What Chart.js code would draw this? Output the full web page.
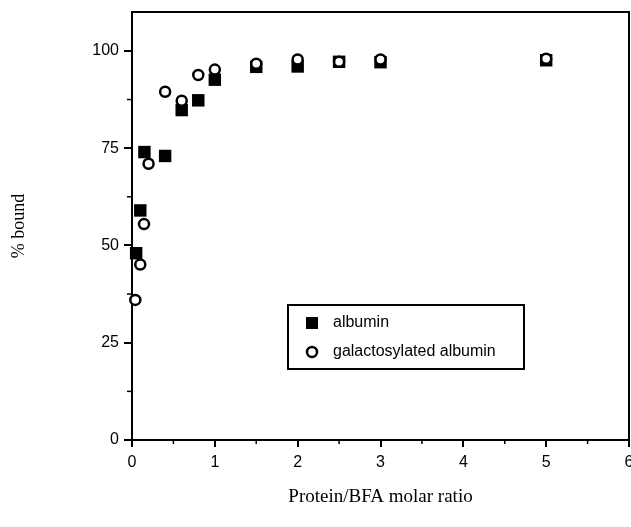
<!DOCTYPE html>
<html><head><meta charset="utf-8">
<script src="https://cdn.jsdelivr.net/npm/chart.js@4"></script>
<style>html,body{margin:0;padding:0;background:#fff}#wrap{width:631px;height:527px}</style>
</head><body><div id="wrap"><canvas id="c" width="631" height="527"></canvas></div>
<script>
const albuminX = [0.05, 0.1, 0.15, 0.4, 0.6, 0.8, 1.0, 1.5, 2, 2.5, 3, 5];
const albuminY = [48, 59, 74, 73, 84.8, 87.3, 92.6, 95.9, 96, 97.2, 97.1, 97.6];
const galX = [0.04, 0.1, 0.145, 0.2, 0.4, 0.6, 0.8, 1.0, 1.5, 2, 2.5, 3, 5];
const galY = [36, 45.1, 55.5, 71, 89.5, 87.2, 93.8, 95.2, 96.7, 97.8, 97.2, 97.8, 98];
const xTicks = [0, 1, 2, 3, 4, 5, 6];
const xMinor = [0.5, 1.5, 2.5, 3.5, 4.5, 5.5];
const yTicks = [0, 25, 50, 75, 100];
const yMinor = [12.5, 37.5, 62.5, 87.5];
const seriesNames = ['albumin', 'galactosylated albumin'];
const xTitle = 'Protein/BFA molar ratio';
const yTitle = '% bound';

const toPts = (xs, ys) => xs.map((v, i) => ({x: v, y: ys[i]}));

const extras = {
  id: 'extras',
  afterDraw(chart) {
    const {ctx, chartArea: a, scales: {x, y}} = chart;
    ctx.save();
    ctx.strokeStyle = '#000';
    ctx.lineWidth = 2;
    ctx.beginPath();
    ctx.moveTo(a.left, a.top); ctx.lineTo(a.right, a.top); ctx.lineTo(a.right, a.bottom);
    ctx.stroke();
    ctx.lineWidth = 1.5;
    xMinor.forEach(v => { const px = x.getPixelForValue(v); ctx.beginPath(); ctx.moveTo(px, a.bottom); ctx.lineTo(px, a.bottom + 4); ctx.stroke(); });
    yMinor.forEach(v => { const py = y.getPixelForValue(v); ctx.beginPath(); ctx.moveTo(a.left, py); ctx.lineTo(a.left - 5, py); ctx.stroke(); });
    // legend box
    const bx = 288, by = 305, bw = 236, bh = 64;
    ctx.lineWidth = 2;
    ctx.fillStyle = '#fff';
    ctx.fillRect(bx, by, bw, bh);
    ctx.strokeRect(bx, by, bw, bh);
    const mx = 312, rows = [323, 352];
    ctx.fillStyle = '#000';
    ctx.fillRect(mx - 6, rows[0] - 6, 12, 12);
    ctx.beginPath(); ctx.arc(mx, rows[1], 5, 0, Math.PI * 2);
    ctx.fillStyle = '#fff'; ctx.fill(); ctx.lineWidth = 2.5; ctx.stroke();
    ctx.fillStyle = '#000';
    ctx.font = '16px "Liberation Sans", Arial, sans-serif';
    ctx.textBaseline = 'middle';
    ctx.textAlign = 'left';
    ctx.fillText(seriesNames[0], 333, rows[0]);
    ctx.fillText(seriesNames[1], 333, rows[1]);
    ctx.restore();
  }
};

new Chart(document.getElementById('c'), {
  type: 'scatter',
  data: {
    datasets: [
      {label: seriesNames[0], data: toPts(albuminX, albuminY), pointStyle: 'rect', pointRadius: 8.8, pointHoverRadius: 8.8,
       backgroundColor: '#000', borderColor: '#000', borderWidth: 0, order: 1, clip: false},
      {label: seriesNames[1], data: toPts(galX, galY), pointStyle: 'circle', pointRadius: 5, pointHoverRadius: 5,
       backgroundColor: '#fff', borderColor: '#000', borderWidth: 2.5, order: 0, clip: false}
    ]
  },
  options: {
    responsive: false,
    devicePixelRatio: 1,
    animation: false,
    events: [],
    layout: {autoPadding: false, padding: {top: 12, right: 2, left: 0, bottom: 0}},
    plugins: {legend: {display: false}, tooltip: {enabled: false}},
    scales: {
      x: {
        type: 'linear', min: 0, max: 6,
        afterBuildTicks: s => { s.ticks = xTicks.map(v => ({value: v})); },
        afterFit: s => { s.height = 87; s.paddingLeft = 0; s.paddingRight = 0; },
        border: {display: true, color: '#000', width: 2},
        grid: {display: true, drawOnChartArea: false, drawTicks: true, tickLength: 7, color: '#000', lineWidth: 2},
        ticks: {color: '#000', padding: 6, maxRotation: 0, font: {family: '"Liberation Sans", Arial, sans-serif', size: 16}},
        title: {display: true, text: xTitle, color: '#000', font: {family: '"Liberation Serif", "Times New Roman", serif', size: 19}, padding: {top: 0, bottom: 18.6}}
      },
      y: {
        type: 'linear', min: 0, max: 110,
        afterBuildTicks: s => { s.ticks = yTicks.map(v => ({value: v})); },
        afterFit: s => { s.width = 132; s.paddingTop = 0; s.paddingBottom = 0; },
        border: {display: true, color: '#000', width: 2},
        grid: {display: true, drawOnChartArea: false, drawTicks: true, tickLength: 8, color: '#000', lineWidth: 2},
        ticks: {color: '#000', padding: 5, font: {family: '"Liberation Sans", Arial, sans-serif', size: 16}},
        title: {display: true, text: yTitle, color: '#000', font: {family: '"Liberation Serif", "Times New Roman", serif', size: 18}, padding: {top: 8, bottom: 0}}
      }
    }
  },
  plugins: [extras]
});
</script></body></html>
